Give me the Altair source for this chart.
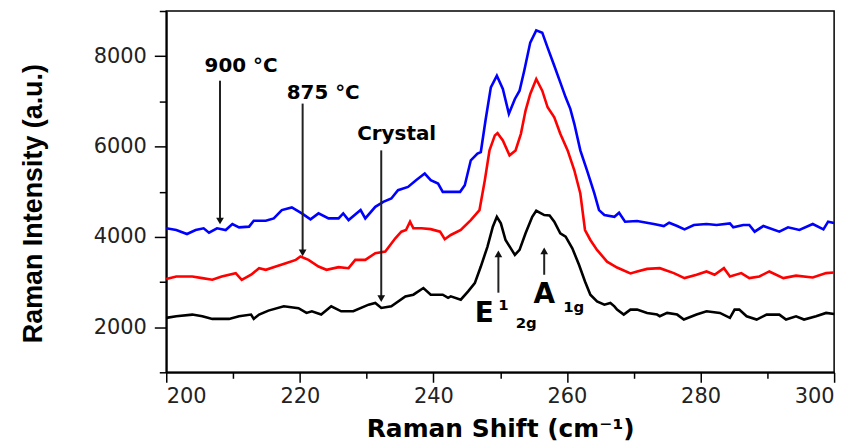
import altair as alt
import pandas as pd

# ---- data ----
crystal_x = [200.0, 201.5, 203.9, 205.4, 206.9, 209.4, 210.9, 212.7, 213.1, 213.9, 215.3, 217.6,
             219.8, 221.0, 221.8, 223.2, 224.7, 226.2, 228.0, 230.3, 231.3, 232.2, 233.7, 235.8,
             237.0, 238.5, 239.6, 240.7, 241.4, 242.2, 242.6, 244.1, 245.2, 246.2, 247.1, 248.1,
             248.9, 249.5, 250.1, 250.8, 252.2, 252.9, 253.8, 254.8, 255.4, 256.6, 257.4, 258.1,
             259.0, 259.8, 260.8, 261.8, 262.7, 263.5, 264.5, 265.6, 266.5, 267.1, 267.5, 268.5,
             269.5, 270.5, 272.0, 273.5, 273.9, 275.0, 276.5, 277.5, 279.4, 280.9, 282.9, 284.4,
             285.1, 285.8, 286.9, 288.4, 289.9, 291.8, 292.8, 294.3, 295.5, 297.3, 298.8, 300.0]
crystal_y = [2205, 2241, 2278, 2241, 2183, 2183, 2241, 2278, 2183, 2278, 2366, 2461,
             2420, 2315, 2351, 2278, 2461, 2351, 2351, 2498, 2535, 2425, 2461, 2681,
             2719, 2866, 2719, 2719, 2719, 2650, 2681, 2609, 2792, 2976, 3342, 3783,
             4224, 4444, 4298, 3930, 3600, 3710, 4078, 4444, 4576, 4482, 4474, 4335,
             4078, 4004, 3747, 3380, 3012, 2719, 2571, 2498, 2535, 2460, 2388, 2278,
             2388, 2388, 2315, 2278, 2241, 2315, 2278, 2168, 2278, 2351, 2315, 2205,
             2388, 2388, 2241, 2168, 2278, 2278, 2168, 2241, 2168, 2241, 2315, 2290]

t875_x = [200.0, 201.5, 203.9, 205.4, 206.9, 208.3, 210.4, 211.3, 212.7, 213.9, 214.9, 216.4,
          217.9, 219.4, 220.1, 221.3, 222.8, 224.0, 225.8, 227.3, 228.3, 229.8, 231.3, 232.8,
          234.3, 235.2, 235.9, 236.5, 237.0, 238.2, 239.6, 241.0, 241.7, 242.6, 244.1, 245.6,
          246.9, 247.7, 248.4, 249.2, 249.6, 250.4, 251.4, 252.3, 253.1, 253.8, 254.5, 255.4,
          256.3, 257.1, 258.1, 259.0, 260.1, 261.1, 262.0, 262.7, 263.5, 264.5, 266.0, 267.5,
          269.5, 270.5, 272.0, 273.9, 276.0, 277.6, 279.4, 280.9, 282.1, 283.5, 284.4, 286.1,
          287.3, 288.8, 290.3, 292.4, 294.3, 296.8, 298.8, 300.0]
t875_y = [3064, 3122, 3122, 3086, 3049, 3122, 3196, 3049, 3160, 3306, 3270, 3342,
          3417, 3490, 3563, 3490, 3342, 3270, 3328, 3306, 3490, 3490, 3637, 3673,
          3967, 4114, 4151, 4335, 4188, 4188, 4170, 4114, 3946, 4041, 4151, 4371,
          4592, 5253, 5914, 6245, 6296, 6134, 5804, 5914, 6281, 6795, 7163, 7494,
          7236, 6868, 6648, 6281, 5914, 5473, 4960, 4151, 3930, 3710, 3450, 3320,
          3190, 3233, 3290, 3306, 3196, 3086, 3160, 3233, 3160, 3306, 3122, 3196,
          3086, 3122, 3233, 3086, 3140, 3100, 3196, 3210]

t900_x = [200.0, 201.5, 203.1, 204.4, 205.6, 206.4, 207.6, 208.9, 209.9, 210.9, 212.4, 213.1,
          214.9, 216.1, 217.3, 218.8, 220.3, 221.6, 222.8, 224.3, 225.8, 226.5, 227.3, 229.1,
          229.8, 231.3, 232.5, 233.7, 234.7, 236.2, 237.4, 238.7, 239.6, 240.7, 241.4, 242.6,
          244.0, 244.7, 245.6, 246.6, 247.1, 247.8, 248.6, 249.5, 250.4, 251.3, 252.2, 252.9,
          253.6, 254.5, 255.4, 256.3, 257.1, 258.1, 259.0, 259.8, 260.5, 261.1, 262.0, 263.0,
          264.1, 264.8, 265.6, 267.1, 267.8, 268.7, 270.5, 273.0, 274.5, 275.3, 276.5, 277.6,
          279.0, 280.9, 282.4, 284.4, 284.9, 286.4, 287.3, 288.1, 289.4, 291.8, 293.1, 294.8,
          296.8, 298.4, 299.1, 300.0]
t900_y = [4188, 4151, 4063, 4151, 4188, 4092, 4188, 4151, 4283, 4210, 4225, 4356,
          4356, 4408, 4592, 4651, 4519, 4386, 4519, 4408, 4408, 4519, 4371, 4592,
          4408, 4665, 4775, 4848, 5033, 5106, 5253, 5400, 5253, 5180, 4996, 4996,
          4996, 5143, 5694, 5841, 5877, 6575, 7309, 7567, 7273, 6722, 7053, 7236,
          7677, 8301, 8571, 8520, 8190, 7787, 7419, 7089, 6833, 6502, 5914, 5473,
          4960, 4592, 4482, 4444, 4532, 4335, 4349, 4283, 4239, 4312, 4239, 4165,
          4261, 4283, 4261, 4298, 4210, 4261, 4261, 4114, 4239, 4114, 4210, 4151,
          4283, 4165, 4335, 4305]

series_names = ["Crystal", "875 °C", "900 °C"]
series_colors = ["#000000", "#ff0000", "#0000ff"]

x_ticks = [200, 210, 220, 230, 240, 250, 260, 270, 280, 290, 300]
y_ticks = [1000, 2000, 3000, 4000, 5000, 6000, 7000, 8000, 9000]

# annotations: temperature labels with down arrows
temp_text = ["900 °C", "875 °C", "Crystal"]
temp_text_x = [211.2, 223.5, 234.5]
temp_text_y = [7655, 7060, 6134]
temp_arrow_x = [208.05, 220.42, 232.19]
temp_arrow_top = [7457, 6950, 5914]
temp_arrow_tip = [4350, 3644, 2631]

# mode labels with up arrows
mode_text = ["E", "A"]
mode_text_x = [247.6, 256.6]
mode_text_y = [2113, 2543]
script_text = ["1", "2g", "1g"]
script_x = [250.5, 253.9, 261.0]
script_y = [2390, 1992, 2344]
mode_arrow_x = [249.73, 256.59]
mode_arrow_bottom = [2763, 3160]
mode_arrow_tip = [3622, 3688]

# ---- tables ----
rows = []
for name, xs, ys in [("Crystal", crystal_x, crystal_y),
                     ("875 °C", t875_x, t875_y),
                     ("900 °C", t900_x, t900_y)]:
    for a, b in zip(xs, ys):
        rows.append({"shift": a, "intensity": b, "series": name})
df = pd.DataFrame(rows)

temp_df = pd.DataFrame({"label": temp_text, "x": temp_text_x, "y": temp_text_y})
temp_arr = pd.DataFrame({"x": temp_arrow_x, "y": temp_arrow_top, "y2": temp_arrow_tip})
mode_df = pd.DataFrame({"label": mode_text, "x": mode_text_x, "y": mode_text_y})
script_df = pd.DataFrame({"label": script_text, "x": script_x, "y": script_y})
mode_arr = pd.DataFrame({"x": mode_arrow_x, "y": mode_arrow_bottom, "y2": mode_arrow_tip})

W, H = 671, 363
xscale = alt.Scale(domain=[200, 300], nice=False, zero=False)
yscale = alt.Scale(domain=[1000, 9000], nice=False, zero=False)

x_axis = alt.Axis(
    values=x_ticks,
    labelExpr="datum.value % 20 === 0 ? datum.label : ''",
    tickSize={"condition": {"test": "datum.value % 20 === 0", "value": 10}, "value": 6},
    grid=False, domainColor="black", domainWidth=2, tickColor="black", tickWidth=1.5,
    labelFont="DejaVu Sans", labelFontSize=21, labelColor="#222222", labelPadding=3,
    title="Raman Shift (cm⁻¹)", titleFont="DejaVu Sans", titleFontSize=25,
    titleFontWeight="bold", titleColor="black", titleBaseline="middle", titleY=56,
)
y_axis = alt.Axis(
    values=y_ticks,
    labelExpr="datum.value % 2000 === 0 ? datum.label : ''",
    format="d",
    tickSize={"condition": {"test": "datum.value % 2000 === 0", "value": 12}, "value": 7},
    grid=False, domainColor="black", domainWidth=2, tickColor="black", tickWidth=1.5,
    labelFont="DejaVu Sans", labelFontSize=21, labelColor="#222222", labelPadding=8,
    title="Raman Intensity (a.u.)", titleFont="Liberation Sans", titleFontSize=27,
    titleFontWeight="bold", titleColor="black", titleAlign="center",
    titleBaseline="middle", titleX=-133, titleY=193,
)


def xe(f="x"):
    return alt.X(f"{f}:Q", scale=xscale, axis=x_axis)


def ye(f="y"):
    return alt.Y(f"{f}:Q", scale=yscale, axis=y_axis)


lines = alt.Chart(df).mark_line(strokeWidth=2.6).encode(
    x=xe("shift"),
    y=ye("intensity"),
    color=alt.Color("series:N", scale=alt.Scale(domain=series_names, range=series_colors), legend=None),
)

temp_labels = alt.Chart(temp_df).mark_text(
    font="DejaVu Sans", fontSize=20, fontWeight="bold", color="black",
    align="center", baseline="alphabetic").encode(x=xe(), y=ye(), text="label:N")

temp_rules = alt.Chart(temp_arr).mark_rule(color="#222222", strokeWidth=2).encode(
    x=xe(), y=ye(), y2="y2:Q")
temp_heads = alt.Chart(temp_arr).mark_point(
    shape="triangle-down", filled=True, color="#111111", opacity=1, size=60).encode(
    x=xe(), y=ye("y2"))

mode_labels = alt.Chart(mode_df).mark_text(
    font="DejaVu Sans", fontSize=28, fontWeight="bold", color="black",
    align="center", baseline="alphabetic").encode(x=xe(), y=ye(), text="label:N")
script_labels = alt.Chart(script_df).mark_text(
    font="DejaVu Sans", fontSize=15, fontWeight="bold", color="black",
    align="center", baseline="alphabetic").encode(x=xe(), y=ye(), text="label:N")

mode_rules = alt.Chart(mode_arr).mark_rule(color="#222222", strokeWidth=2).encode(
    x=xe(), y=ye(), y2="y2:Q")
mode_heads = alt.Chart(mode_arr).mark_point(
    shape="triangle-up", filled=True, color="#111111", opacity=1, size=60).encode(
    x=xe(), y=ye("y2"))

chart = alt.layer(
    lines, temp_rules, temp_heads, temp_labels, mode_rules, mode_heads, mode_labels, script_labels
).properties(
    width=W, height=H,
    autosize=alt.AutoSizeParams(type="none"),
    padding={"left": 159, "top": 2, "right": 25, "bottom": 70},
    background="white",
).configure_view(stroke="black", strokeWidth=1.5)

chart.save("out.html", embed_options={"renderer": "svg", "actions": False})
